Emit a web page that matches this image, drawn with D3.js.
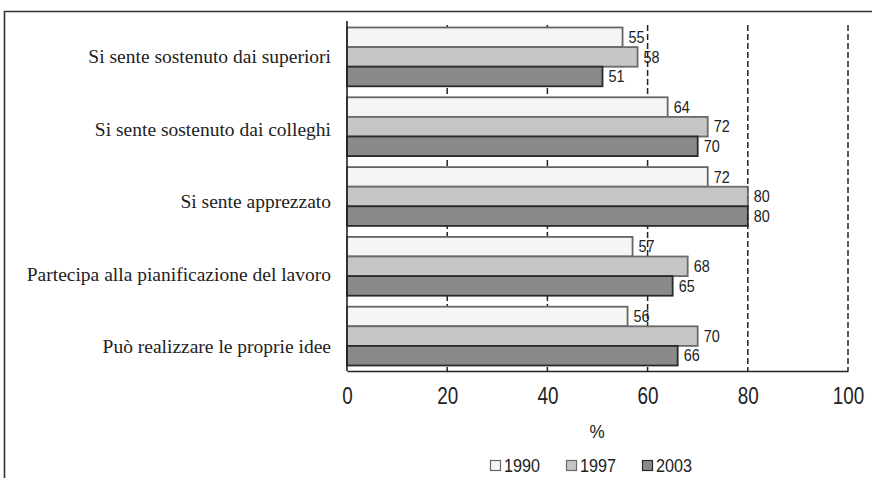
<!DOCTYPE html>
<html>
<head>
<meta charset="utf-8">
<script src="https://cdn.jsdelivr.net/npm/d3@7"></script>
<style>
  html, body { margin: 0; padding: 0; background: #fff; }
  svg { display: block; }
  .num { font-family: "Liberation Sans", Arial, sans-serif; fill: #222; }
  .cat { font-family: "Liberation Serif", "DejaVu Serif", serif; fill: #222; }
</style>
</head>
<body>
<svg id="chart" width="872" height="478"></svg>
<script>
// Categories (top to bottom), survey years and percentages per year
const categories = [
  "Si sente sostenuto dai superiori",
  "Si sente sostenuto dai colleghi",
  "Si sente apprezzato",
  "Partecipa alla pianificazione del lavoro",
  "Può realizzare le proprie idee"
];
const years = ["1990", "1997", "2003"];
const values1990 = [55, 64, 72, 57, 56];
const values1997 = [58, 72, 80, 68, 70];
const values2003 = [51, 70, 80, 65, 66];
const xTicks = [0, 20, 40, 60, 80, 100];
const gridTicks = [20, 40, 60, 80, 100];
const axisTitle = "%";

const fills = { "1990": "#f5f5f5", "1997": "#c6c6c6", "2003": "#8a8a8a" };
const strokes = { "1990": "#666", "1997": "#6a6a6a", "2003": "#2a2a2a" };

const seriesValues = { "1990": values1990, "1997": values1997, "2003": values2003 };
const rows = categories.map((c, i) => ({
  category: c,
  bars: years.map(y => ({ year: y, value: seriesValues[y][i] }))
}));

const svg = d3.select("#chart");

// Outer frame
svg.append("path")
  .attr("d", "M4.5,478 L4.5,11.5 L872,11.5")
  .attr("fill", "none").attr("stroke", "#333").attr("stroke-width", 1.6);

const plotTop = 22, plotBottom = 371;
const x = d3.scaleLinear().domain([0, 100]).range([347, 848]);
const y = d3.scaleBand().domain(categories).range([plotTop, plotBottom]).padding(0);
const inner = d3.scaleBand().domain(years)
  .range([5.5, y.bandwidth() - 5.5]).padding(0);
// Category text baselines, spread slightly wider than the bar groups
const yLabel = d3.scalePoint().domain(categories).range([63, 353]);

// Dashed gridlines
svg.append("g").selectAll("line").data(gridTicks).join("line")
  .attr("x1", d => x(d)).attr("x2", d => x(d))
  .attr("y1", 25).attr("y2", plotBottom)
  .attr("stroke", "#222").attr("stroke-width", 1.5)
  .attr("stroke-dasharray", "6,3");

// Bars
const groups = svg.append("g").selectAll("g").data(rows).join("g")
  .attr("transform", d => `translate(0,${y(d.category)})`);

groups.selectAll("rect").data(d => d.bars).join("rect")
  .attr("x", x(0))
  .attr("y", d => inner(d.year))
  .attr("width", d => x(d.value) - x(0))
  .attr("height", inner.bandwidth())
  .attr("fill", d => fills[d.year])
  .attr("stroke", d => strokes[d.year])
  .attr("stroke-width", 1.8);

// Value labels
groups.selectAll("text").data(d => d.bars).join("text")
  .attr("class", "num")
  .attr("transform", d => `translate(${x(d.value) + 6},${inner(d.year) + inner.bandwidth() / 2}) scale(0.9,1)`)
  .attr("dy", "0.36em")
  .attr("font-size", 16)
  .text(d => d.value);

// Category labels
svg.append("g").selectAll("text").data(categories).join("text")
  .attr("class", "cat")
  .attr("x", 331)
  .attr("y", d => yLabel(d))
  .attr("text-anchor", "end")
  .attr("font-size", 19.5)
  .text(d => d);

// Left axis line
svg.append("line")
  .attr("x1", x(0)).attr("x2", x(0)).attr("y1", 21).attr("y2", plotBottom)
  .attr("stroke", "#222").attr("stroke-width", 1.6);

// Bottom axis
const xAxis = svg.append("g")
  .attr("transform", `translate(0,${plotBottom})`)
  .call(d3.axisBottom(x).tickValues(xTicks).tickSize(0).tickSizeOuter(0).tickPadding(17));
xAxis.select(".domain").attr("stroke", "#222").attr("stroke-width", 1.6);
xAxis.selectAll(".tick text")
  .attr("class", "num")
  .attr("font-size", 23)
  .attr("fill", "#222")
  .attr("transform", "scale(0.82,1)");

// Axis title
svg.append("text").attr("class", "num")
  .attr("transform", "translate(597,438) scale(0.9,1)")
  .attr("text-anchor", "middle").attr("font-size", 19)
  .text(axisTitle);

// Legend
const legendX = d3.scaleBand().domain(years).range([490, 718]);
const legend = svg.append("g").selectAll("g").data(years).join("g")
  .attr("transform", d => `translate(${legendX(d)},460)`);
legend.append("rect")
  .attr("x", 0.5).attr("y", 0.5).attr("width", 10).attr("height", 10)
  .attr("fill", d => fills[d]).attr("stroke", d => strokes[d]).attr("stroke-width", 1.2);
legend.append("text").attr("class", "num")
  .attr("transform", "translate(14,5.5) scale(0.9,1)")
  .attr("dy", "0.36em")
  .attr("font-size", 18)
  .text(d => d);
</script>
</body>
</html>
